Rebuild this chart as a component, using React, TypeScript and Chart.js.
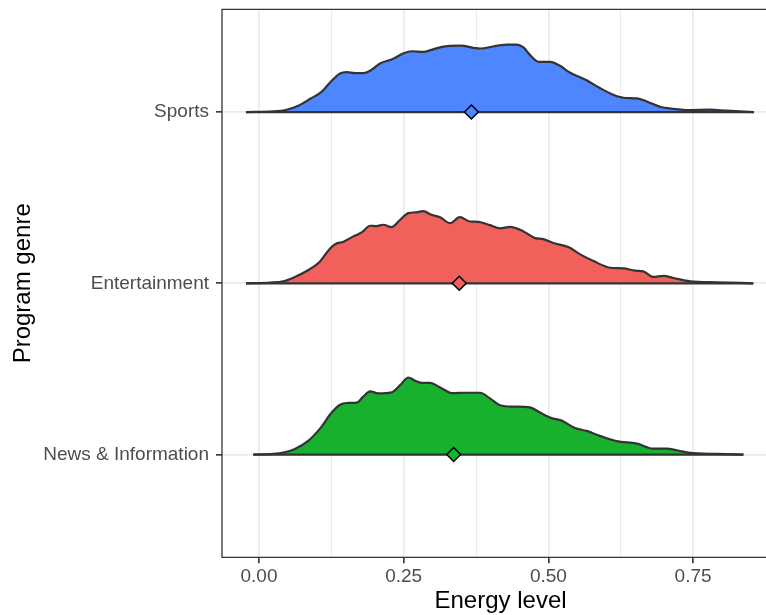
import { useEffect, useRef } from 'react';
import { Chart, registerables } from 'chart.js';

Chart.register(...registerables);

const FONT = '"Liberation Sans", Arial, Helvetica, sans-serif';

const genres = ['News & Information', 'Entertainment', 'Sports'];
const genreLevels = [1, 2, 3];
const xTickValues = [0, 0.125, 0.25, 0.375, 0.5, 0.625, 0.75];
const xTickLabels = ['0.00', '', '0.25', '', '0.50', '', '0.75'];
const xTitle = 'Energy level';
const yTitle = 'Program genre';

const newsX = [-0.0098, 0.0247, 0.042, 0.062, 0.085, 0.105, 0.1256, 0.140, 0.1515, 0.169, 0.180, 0.192, 0.206, 0.229, 0.244, 0.258, 0.2696, 0.281, 0.2955, 0.313, 0.333, 0.359, 0.382, 0.399, 0.4165, 0.4395, 0.468, 0.4856, 0.503, 0.523, 0.546, 0.566, 0.589, 0.618, 0.653, 0.681, 0.7045, 0.722, 0.745, 0.791, 0.837];
const newsH = [0, 0.004, 0.0117, 0.033, 0.080, 0.150, 0.245, 0.291, 0.301, 0.303, 0.338, 0.369, 0.357, 0.363, 0.406, 0.450, 0.431, 0.419, 0.419, 0.392, 0.359, 0.361, 0.361, 0.328, 0.288, 0.280, 0.276, 0.245, 0.2155, 0.198, 0.155, 0.138, 0.109, 0.078, 0.064, 0.035, 0.035, 0.025, 0.0097, 0.004, 0];

const entX = [-0.0225, 0.019, 0.042, 0.0593, 0.0824, 0.105, 0.120, 0.131, 0.146, 0.163, 0.1775, 0.192, 0.203, 0.215, 0.229, 0.244, 0.258, 0.2696, 0.284, 0.298, 0.313, 0.330, 0.347, 0.3646, 0.379, 0.399, 0.4165, 0.434, 0.457, 0.477, 0.491, 0.5086, 0.5345, 0.555, 0.578, 0.6065, 0.6296, 0.650, 0.664, 0.681, 0.699, 0.716, 0.745, 0.791, 0.854];
const entH = [0, 0.004, 0.0117, 0.033, 0.072, 0.126, 0.192, 0.227, 0.243, 0.274, 0.297, 0.336, 0.334, 0.342, 0.328, 0.371, 0.410, 0.414, 0.421, 0.400, 0.386, 0.351, 0.386, 0.361, 0.359, 0.340, 0.321, 0.330, 0.303, 0.264, 0.258, 0.235, 0.212, 0.169, 0.130, 0.091, 0.087, 0.074, 0.070, 0.037, 0.043, 0.031, 0.0117, 0.006, 0];

const sportsX = [-0.0225, 0.0247, 0.0478, 0.068, 0.088, 0.108, 0.1256, 0.140, 0.1515, 0.166, 0.180, 0.192, 0.209, 0.232, 0.249, 0.264, 0.284, 0.298, 0.316, 0.347, 0.382, 0.405, 0.4165, 0.428, 0.445, 0.457, 0.468, 0.483, 0.503, 0.520, 0.537, 0.566, 0.589, 0.612, 0.6296, 0.653, 0.670, 0.693, 0.716, 0.745, 0.779, 0.808, 0.855];
const sportsH = [0, 0.004, 0.0136, 0.037, 0.076, 0.118, 0.183, 0.225, 0.233, 0.227, 0.227, 0.241, 0.283, 0.311, 0.342, 0.355, 0.351, 0.363, 0.381, 0.388, 0.371, 0.383, 0.390, 0.394, 0.394, 0.377, 0.334, 0.293, 0.293, 0.270, 0.231, 0.186, 0.140, 0.101, 0.0835, 0.0796, 0.062, 0.031, 0.019, 0.0117, 0.0136, 0.008, 0];

const means = [0.3364, 0.346, 0.367];
const fillColors = ['#18B12E', '#F2605B', '#4E86FF'];

const densityX = [newsX, entX, sportsX];
const densityH = [newsH, entH, sportsH];

// full panel (incl. part cropped off the right of the image) ends at this data value
const PANEL_X_END = 0.8986;

const isMajor = (v: number) => Math.abs(v * 4 - Math.round(v * 4)) < 1e-6;

const panelBorder = {
  id: 'panelBorder',
  afterDraw(chart: any) {
    const { ctx, chartArea } = chart;
    const { left, top, bottom } = chartArea;
    const right = chart.width + 5;
    ctx.save();
    ctx.strokeStyle = '#333333';
    ctx.lineWidth = 1.3;
    ctx.beginPath();
    ctx.moveTo(right, top);
    ctx.lineTo(left, top);
    ctx.lineTo(left, bottom);
    ctx.lineTo(right, bottom);
    ctx.stroke();
    // x axis title centred on the full (cropped) panel
    const xs = chart.scales.x;
    const cx = (left + xs.getPixelForValue(PANEL_X_END)) / 2;
    ctx.fillStyle = '#000000';
    ctx.font = '24px ' + FONT;
    ctx.textAlign = 'center';
    ctx.textBaseline = 'middle';
    ctx.fillText(xTitle, cx, 601);
    ctx.restore();
  },
};

export default function App() {
  const ref = useRef<HTMLCanvasElement | null>(null);

  useEffect(() => {
    if (!ref.current) return;
    const densitySets = genreLevels.map((base, g) => ({
      type: 'line' as const,
      label: genres[g],
      data: densityX[g].map((x, i) => ({ x, y: base + densityH[g][i] })),
      borderColor: '#333333',
      borderWidth: 2.2,
      backgroundColor: fillColors[g],
      fill: { value: base },
      pointRadius: 0,
      cubicInterpolationMode: 'monotone' as const,
      order: 2,
    }));
    const baseSets = genreLevels.map((base, g) => ({
      type: 'line' as const,
      label: genres[g] + ' baseline',
      data: [
        { x: densityX[g][0], y: base },
        { x: densityX[g][densityX[g].length - 1], y: base },
      ],
      borderColor: '#333333',
      borderWidth: 2.2,
      fill: false,
      pointRadius: 0,
      order: 1,
    }));
    const meanSet = {
      type: 'line' as const,
      label: 'mean',
      data: means.map((m, g) => ({ x: m, y: genreLevels[g] })),
      showLine: false,
      pointStyle: 'rectRot' as const,
      pointRadius: 7,
      pointBackgroundColor: fillColors,
      pointBorderColor: '#000000',
      pointBorderWidth: 1.5,
      order: 0,
    };
    const chart = new Chart(ref.current, {
      type: 'line',
      data: { datasets: [meanSet as any, ...baseSets, ...densitySets] },
      plugins: [panelBorder],
      options: {
        animation: false,
        responsive: false,
        devicePixelRatio: 1,
        layout: { autoPadding: false, padding: { left: 0, right: 0, top: 9.3, bottom: 0 } },
        plugins: { legend: { display: false }, tooltip: { enabled: false } },
        scales: {
          x: {
            type: 'linear',
            min: -0.0639,
            max: 0.876,
            afterBuildTicks: (s: any) => {
              s.ticks = xTickValues.map((v) => ({ value: v }));
            },
            afterFit: (s: any) => {
              s.height = 57.7;
              s.paddingLeft = 0;
              s.paddingRight = 0;
            },
            border: { display: false },
            grid: {
              color: '#EBEBEB',
              lineWidth: (c: any) => (isMajor(c.tick?.value ?? 0) ? 1.7 : 1.0),
              tickColor: (c: any) => (isMajor(c.tick?.value ?? 0) ? '#333333' : 'rgba(0,0,0,0)'),
              tickLength: 6,
              tickWidth: 1.6,
              drawTicks: true,
            },
            ticks: {
              autoSkip: false,
              maxRotation: 0,
              padding: 2,
              color: '#4D4D4D',
              font: { family: FONT, size: 19 },
              callback: (_v: any, i: number) => xTickLabels[i],
            },
            title: { display: false },
          },
          y: {
            type: 'linear',
            min: 0.4,
            max: 3.6,
            afterBuildTicks: (s: any) => {
              s.ticks = genreLevels.map((v) => ({ value: v }));
            },
            afterFit: (s: any) => {
              s.width = 222;
              s.paddingTop = 0;
              s.paddingBottom = 0;
            },
            border: { display: false },
            grid: {
              color: '#EBEBEB',
              lineWidth: 1.7,
              tickColor: '#333333',
              tickLength: 6,
              tickWidth: 1.6,
              drawTicks: true,
            },
            ticks: {
              autoSkip: false,
              padding: 7,
              color: '#4D4D4D',
              font: { family: FONT, size: 19 },
              callback: (v: any) => {
                const i = genreLevels.indexOf(Math.round(Number(v)));
                return i >= 0 ? genres[i] : '';
              },
            },
            title: {
              display: true,
              text: yTitle,
              color: '#000000',
              font: { family: FONT, size: 24 },
              padding: { top: 9, bottom: 0 },
            },
          },
        },
      } as any,
    });
    return () => chart.destroy();
  }, []);

  return (
    <div style={{ position: 'absolute', left: 0, top: 0, width: 766, height: 615, background: '#ffffff' }}>
      <canvas ref={ref} width={766} height={615} style={{ display: 'block', width: 766, height: 615 }} />
    </div>
  );
}
